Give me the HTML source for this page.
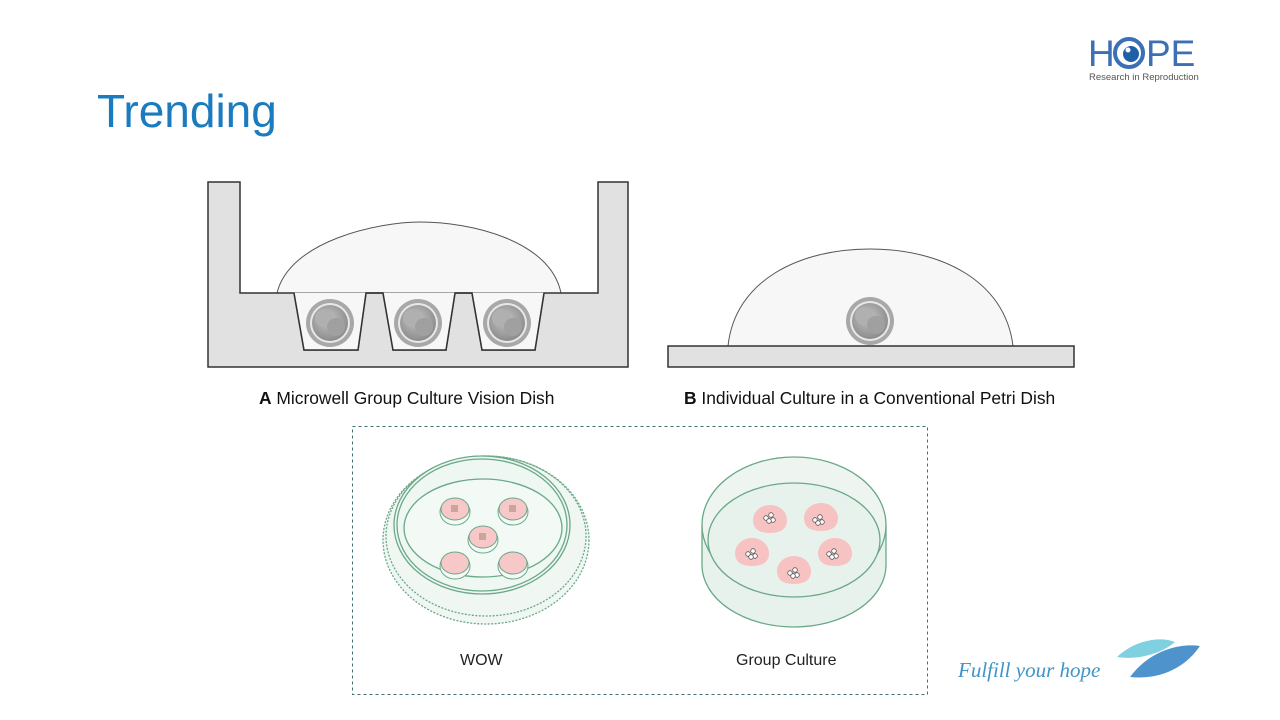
<!DOCTYPE html>
<html><head><meta charset="utf-8"><style>
html,body{margin:0;padding:0;background:#fff;}
svg{display:block;}
</style></head><body>
<svg width="1280" height="720" viewBox="0 0 1280 720" xmlns="http://www.w3.org/2000/svg">
<defs>
<radialGradient id="emb" cx="0.45" cy="0.4" r="0.6">
<stop offset="0" stop-color="#c4c4c4"/><stop offset="1" stop-color="#8c8c8c"/>
</radialGradient>
<g id="embryo">
<circle r="24" fill="#a8a8a8"/>
<circle r="20" fill="#e8e8e8"/>
<circle r="18" fill="url(#emb)"/>
<circle cx="-6" cy="-5" r="9" fill="#b0b0b0"/>
<circle cx="6" cy="4" r="9" fill="#a0a0a0"/>
</g>
<g id="cl"><circle cx="-4" cy="0" r="2.3" fill="#fff" stroke="#555" stroke-width="0.8"/><circle cx="1" cy="-3" r="2.3" fill="#fff" stroke="#555" stroke-width="0.8"/><circle cx="3" cy="2" r="2.3" fill="#fff" stroke="#555" stroke-width="0.8"/><circle cx="-1" cy="3" r="2.3" fill="#fff" stroke="#555" stroke-width="0.8"/></g>
</defs>

<text x="97" y="127" font-family="Liberation Sans, sans-serif" font-size="46" fill="#1a7bbf">Trending</text>

<text x="1088" y="66" font-family="Liberation Sans, sans-serif" font-size="37" fill="#3d6fb5">H</text>
<circle cx="1129" cy="53" r="14" fill="none" stroke="#3d6fb5" stroke-width="4"/>
<circle cx="1131" cy="54" r="8" fill="#1e5fa8"/>
<circle cx="1128" cy="50" r="2.5" fill="#fff"/>
<text x="1146" y="66" font-family="Liberation Sans, sans-serif" font-size="37" fill="#3d6fb5">PE</text>
<text x="1089" y="80" font-family="Liberation Sans, sans-serif" font-size="9.5" fill="#555">Research in Reproduction</text>

<path d="M277,293 C290,240 380,222 420,222 C470,222 550,240 561,293 Z" fill="#f7f7f7" stroke="#555" stroke-width="1"/>
<path d="M208,182 L240,182 L240,293 L294,293 L304,350 L358,350 L366,293 L383,293 L393,350 L446,350 L455,293 L472,293 L482,350 L535,350 L544,293 L598,293 L598,182 L628,182 L628,367 L208,367 Z" fill="#e1e1e1" stroke="#333" stroke-width="1.5"/>
<path d="M294,293 L304,350 L358,350 L366,293 L383,293 L393,350 L446,350 L455,293 L472,293 L482,350 L535,350 L544,293" fill="#f7f7f7" stroke="#333" stroke-width="1.5"/>
<use href="#embryo" x="330" y="323"/>
<use href="#embryo" x="418" y="323"/>
<use href="#embryo" x="507" y="323"/>

<path d="M728,346 C735,280 800,249 870,249 C940,249 1005,280 1013,346 Z" fill="#f7f7f7" stroke="#555" stroke-width="1"/>
<rect x="668" y="346" width="406" height="21" fill="#e1e1e1" stroke="#333" stroke-width="1.5"/>
<use href="#embryo" x="870" y="321"/>

<text x="259" y="404" font-family="Liberation Sans, sans-serif" font-size="17.4" fill="#111"><tspan font-weight="bold">A</tspan> Microwell Group Culture Vision Dish</text>
<text x="684" y="404" font-family="Liberation Sans, sans-serif" font-size="17.4" fill="#111"><tspan font-weight="bold">B</tspan> Individual Culture in a Conventional Petri Dish</text>

<rect x="352.5" y="426.5" width="575" height="268" fill="none" stroke="#3f6f6f" stroke-width="1" stroke-dasharray="3,3"/>

<g stroke="#6aa888" fill="none" stroke-width="1.3">
<ellipse cx="486" cy="540" rx="103" ry="84" fill="#f0f7f2" stroke-dasharray="2,1.5"/>
<ellipse cx="486" cy="536" rx="100" ry="80" stroke-dasharray="2,1.5"/>
<ellipse cx="482" cy="525" rx="88" ry="69" fill="#eef7f1"/>
<ellipse cx="482" cy="525" rx="85" ry="66"/>
<ellipse cx="483" cy="528" rx="79" ry="49" fill="#f3f9f5"/>
</g>
<g stroke="#6aa888" stroke-width="1">
<ellipse cx="455" cy="512" rx="15" ry="13" fill="#f3f9f5"/><ellipse cx="455" cy="509" rx="14" ry="11" fill="#f8c8c8"/><rect x="451" y="505" width="7" height="7" fill="#c9a59c" stroke="none"/>
<ellipse cx="513" cy="512" rx="15" ry="13" fill="#f3f9f5"/><ellipse cx="513" cy="509" rx="14" ry="11" fill="#f8c8c8"/><rect x="509" y="505" width="7" height="7" fill="#c9a59c" stroke="none"/>
<ellipse cx="483" cy="540" rx="15" ry="13" fill="#f3f9f5"/><ellipse cx="483" cy="537" rx="14" ry="11" fill="#f8c8c8"/><rect x="479" y="533" width="7" height="7" fill="#c9a59c" stroke="none"/>
<ellipse cx="455" cy="566" rx="15" ry="13" fill="#f3f9f5"/><ellipse cx="455" cy="563" rx="14" ry="11" fill="#f8c8c8"/>
<ellipse cx="513" cy="566" rx="15" ry="13" fill="#f3f9f5"/><ellipse cx="513" cy="563" rx="14" ry="11" fill="#f8c8c8"/>
</g>

<g stroke="#6aa888" stroke-width="1.3">
<path d="M702,525 L702,565 A92,62 0 0 0 886,565 L886,525" fill="#e8f2ec"/>
<ellipse cx="794" cy="525" rx="92" ry="68" fill="#eef5f0"/>
<ellipse cx="794" cy="540" rx="86" ry="57" fill="#e8f2ec"/>
</g>
<g fill="#f6c2c2">
<path d="M753,520 a17,15 0 0 1 34,0 q0,13 -17,13 q-17,0 -17,-13z"/>
<path d="M804,518 a17,15 0 0 1 34,0 q0,13 -17,13 q-17,0 -17,-13z"/>
<path d="M735,553 a17,15 0 0 1 34,0 q0,13 -17,13 q-17,0 -17,-13z"/>
<path d="M818,553 a17,15 0 0 1 34,0 q0,13 -17,13 q-17,0 -17,-13z"/>
<path d="M777,571 a17,15 0 0 1 34,0 q0,13 -17,13 q-17,0 -17,-13z"/>
</g>
<use href="#cl" x="770" y="518"/><use href="#cl" x="819" y="520"/><use href="#cl" x="752" y="554"/><use href="#cl" x="833" y="554"/><use href="#cl" x="794" y="573"/>

<text x="460" y="665" font-family="Liberation Sans, sans-serif" font-size="16" fill="#222">WOW</text>
<text x="736" y="665" font-family="Liberation Sans, sans-serif" font-size="16" fill="#222">Group Culture</text>

<text x="958" y="677" font-family="Liberation Serif, serif" font-style="italic" font-size="21" fill="#3f95c8">Fulfill your hope</text>
<path d="M1117,657 C1135,640 1160,636 1175,642 C1160,655 1135,660 1117,657 Z" fill="#7fd0e0"/>
<path d="M1130,677 C1150,650 1180,643 1200,646 C1185,668 1160,680 1130,677 Z" fill="#4f93cc"/>
</svg>
</body></html>
